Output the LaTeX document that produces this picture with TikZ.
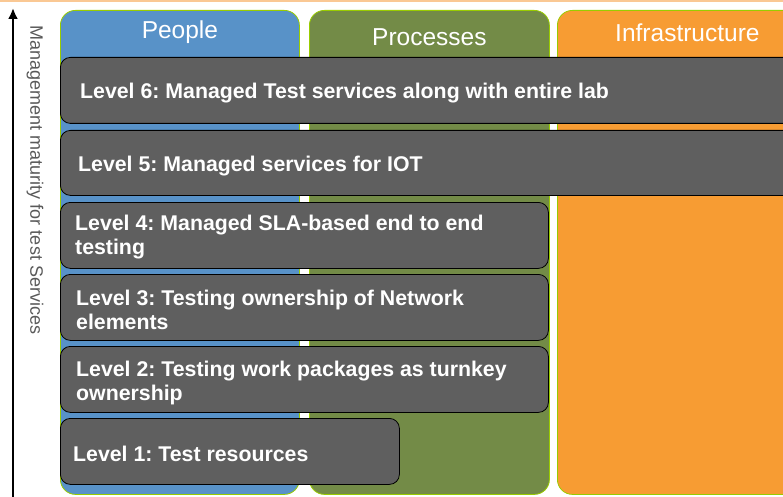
\documentclass[tikz,border=0pt]{standalone}
\usepackage{fontspec}
\setmainfont{Liberation Sans}
\usetikzlibrary{arrows.meta}
\frenchspacing

\definecolor{peopleblue}{HTML}{5892C8}
\definecolor{processgreen}{HTML}{738B47}
\definecolor{infraorange}{HTML}{F79C33}
\definecolor{rimgreen}{HTML}{99CC00}
\definecolor{levelgray}{HTML}{5F5F5F}
\definecolor{topline}{HTML}{FAC894}
\definecolor{axisgray}{HTML}{595959}

\begin{document}
\begin{tikzpicture}
[x=1pt,y=-1pt,
every node/.style={text=white,inner sep=0pt},
column/.style={draw=rimgreen,line width=0.8pt,rounded corners=15pt,anchor=north west,minimum height=484pt},
title/.style={font=\fontsize{24.5}{28}\selectfont},
levelbox/.style={fill=levelgray,draw=black,line width=0.8pt,rounded corners=10pt,anchor=north west,minimum height=66pt},
leveltext/.style={anchor=west,align=left,font=\bfseries\fontsize{21.3}{24}\selectfont}]

\useasboundingbox (0,0) rectangle (783,497);
\clip (0,0) rectangle (783,497);

\draw[topline,line width=2pt] (0,1) -- (783,1);

% columns
\node[column,fill=peopleblue,minimum width=239pt] (people) at (60,10) {};
\node[column,fill=processgreen,minimum width=240pt] (processes) at (309,10) {};
\node[column,fill=infraorange,minimum width=260pt] (infra) at (557,10) {};

\node[title] (peopleT) at ([yshift=-22pt]people.north) {People};
\node[title] (processesT) at ([yshift=-27pt]processes.north) {Processes};
\node[title] (infraT) at ([yshift=-23pt]infra.north) {Infrastructure};

% levels
\node[levelbox,minimum width=760pt] (l6) at (60,57) {};
\node[levelbox,minimum width=760pt,minimum height=65pt] (l5) at (60,130) {};
\node[levelbox,minimum width=488pt] (l4) at (60,202) {};
\node[levelbox,minimum width=488pt] (l3) at (60,274) {};
\node[levelbox,minimum width=488pt] (l2) at (60,346) {};
\node[levelbox,minimum width=339pt] (l1) at (60,418) {};

\node[leveltext] (l6t) at ([xshift=20pt,yshift=-3pt]l6.west) {Level 6: Managed Test services along with entire lab};
\node[leveltext] (l5t) at ([xshift=18pt,yshift=-3pt]l5.west) {Level 5: Managed services for IOT};
\node[leveltext] (l4t) at ([xshift=15pt,yshift=-2pt]l4.west) {Level 4: Managed SLA-based end to end\\testing};
\node[leveltext] (l3t) at ([xshift=16pt,yshift=-2pt]l3.west) {Level 3: Testing ownership of Network\\elements};
\node[leveltext] (l2t) at ([xshift=16pt,yshift=-4pt]l2.west) {Level 2: Testing work packages as turnkey\\ownership};
\node[leveltext] (l1t) at ([xshift=13pt,yshift=-2pt]l1.west) {Level 1: Test resources};

% maturity axis
\coordinate (abot) at (13,497);
\coordinate (atop) at (13,8);
\draw[-{Latex[length=11pt,width=10pt]},line width=2.5pt] (abot) -- (atop);
\node[rotate=-90,text=axisgray,font=\fontsize{18}{20}\selectfont] (axis) at (35,180) {Management maturity for test Services};

\end{tikzpicture}
\end{document}
